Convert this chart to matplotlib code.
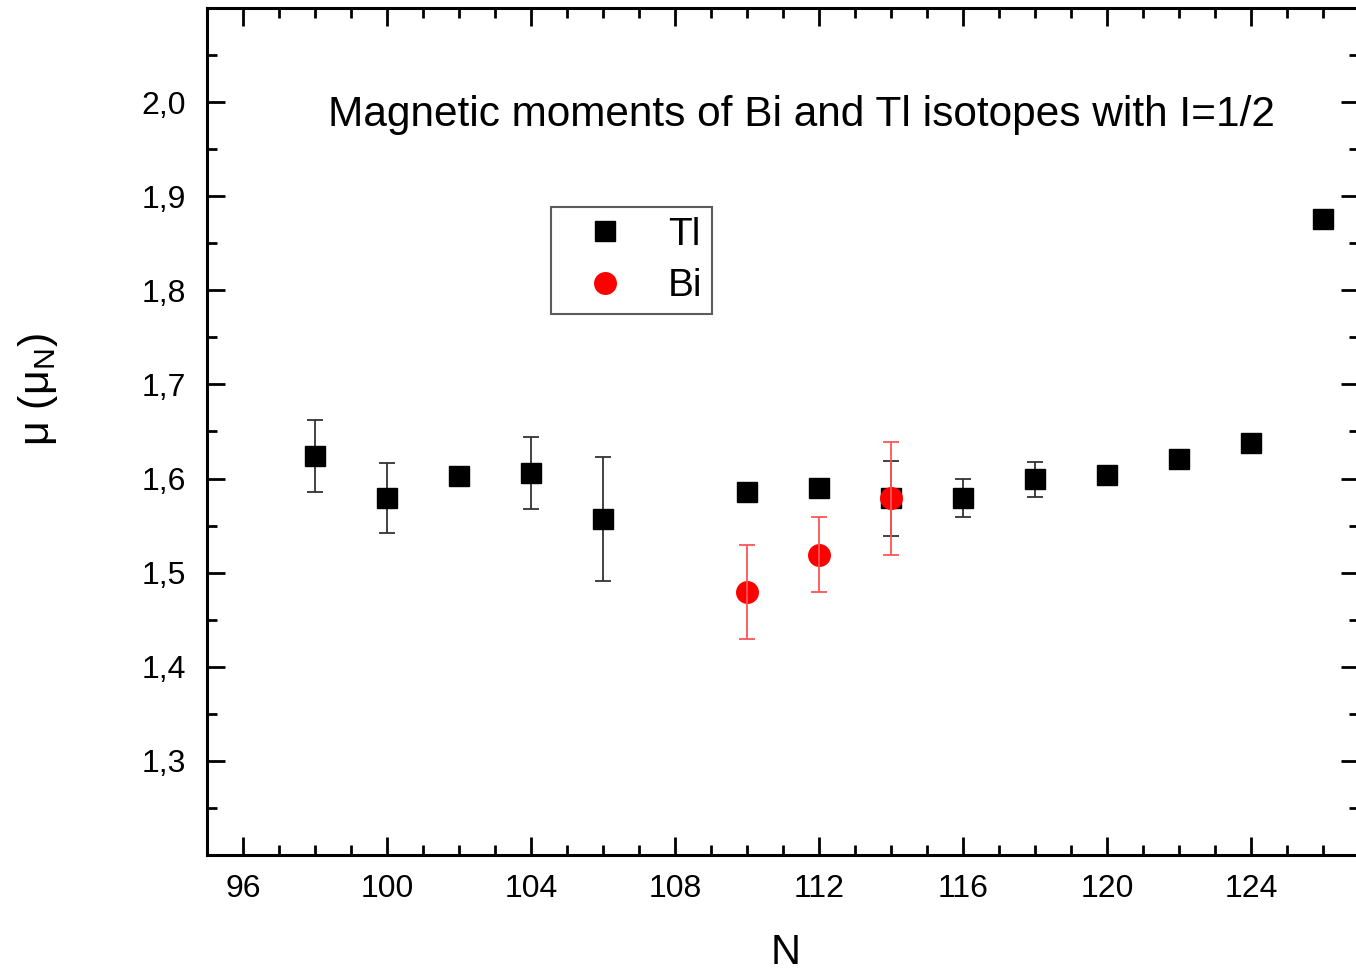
import matplotlib.pyplot as plt
from matplotlib.ticker import MultipleLocator, FuncFormatter

plt.rcParams['font.family'] = ['Liberation Sans', 'DejaVu Sans']
plt.rcParams['mathtext.fontset'] = 'custom'
plt.rcParams['mathtext.rm'] = 'Liberation Sans'
plt.rcParams['mathtext.it'] = 'Liberation Sans'

# Tl isotopes
tl_n = [98, 100, 102, 104, 106, 110, 112, 114, 116, 118, 120, 122, 124, 126]
tl_mu = [1.624, 1.579, 1.603, 1.606, 1.557, 1.586, 1.590, 1.579, 1.579,
         1.599, 1.604, 1.621, 1.638, 1.876]
tl_err = [0.038, 0.037, 0.0, 0.038, 0.066, 0.0, 0.0, 0.040, 0.020,
          0.019, 0.0, 0.0, 0.0, 0.0]

# Bi isotopes
bi_n = [110, 112, 114]
bi_mu = [1.479, 1.519, 1.579]
bi_err = [0.050, 0.040, 0.060]

fig = plt.figure(figsize=(13.56, 9.75), dpi=100)
ax = fig.add_axes([207 / 1356, 120 / 975, 1152 / 1356, 847 / 975])

# error bars first, markers on top
ax.errorbar(tl_n, tl_mu, yerr=tl_err, fmt='none', ecolor='#333333',
            elinewidth=1.3, capsize=6, capthick=1.3, zorder=2)
ax.plot(tl_n, tl_mu, 's', color='black', ms=13.8, ls='none', label='Tl', zorder=3)
ax.plot(bi_n, bi_mu, 'o', color='red', ms=15.5, ls='none', label='Bi', zorder=4)
ax.errorbar(bi_n, bi_mu, yerr=bi_err, fmt='none', ecolor='#ff5555',
            elinewidth=1.3, capsize=6, capthick=1.3, zorder=5)

ax.set_xlim(95, 127)
ax.set_ylim(1.2, 2.1)
ax.xaxis.set_major_locator(MultipleLocator(4))
ax.xaxis.set_minor_locator(MultipleLocator(1))
ax.yaxis.set_major_locator(MultipleLocator(0.1))
ax.yaxis.set_minor_locator(MultipleLocator(0.05))
ax.yaxis.set_major_formatter(FuncFormatter(lambda v, p: f"{v:.1f}".replace('.', ',')))

ax.tick_params(which='both', direction='in', top=True, right=True,
               labelsize=23, width=2)
ax.tick_params(which='major', length=13)
ax.tick_params(which='minor', length=7)
ax.tick_params(axis='x', which='major', pad=14)
ax.tick_params(axis='y', which='major', pad=15)
ax.set_yticks([1.3, 1.4, 1.5, 1.6, 1.7, 1.8, 1.9, 2.0])
for s in ax.spines.values():
    s.set_linewidth(2.2)

ax.set_xlabel('N', fontsize=30)
ax.xaxis.set_label_coords(0.502, -0.092)
ax.set_ylabel(r'μ (μ$_\mathrm{N}$)', fontsize=31, va='center')
ax.yaxis.set_label_coords(-0.147, 0.549)

ax.text(0.516, 0.874, 'Magnetic moments of Bi and Tl isotopes with I=1/2',
        transform=ax.transAxes, ha='center', va='center', fontsize=30.5)

leg = ax.legend(loc='upper left', bbox_to_anchor=(0.2986, 0.765),
                borderaxespad=0, fontsize=28, frameon=True, fancybox=False,
                edgecolor='#333333', handletextpad=0.45, borderpad=0.25,
                labelspacing=0.4, handlelength=2.3)
leg.get_frame().set_linewidth(1.5)

fig.savefig('out.png', dpi=100)
